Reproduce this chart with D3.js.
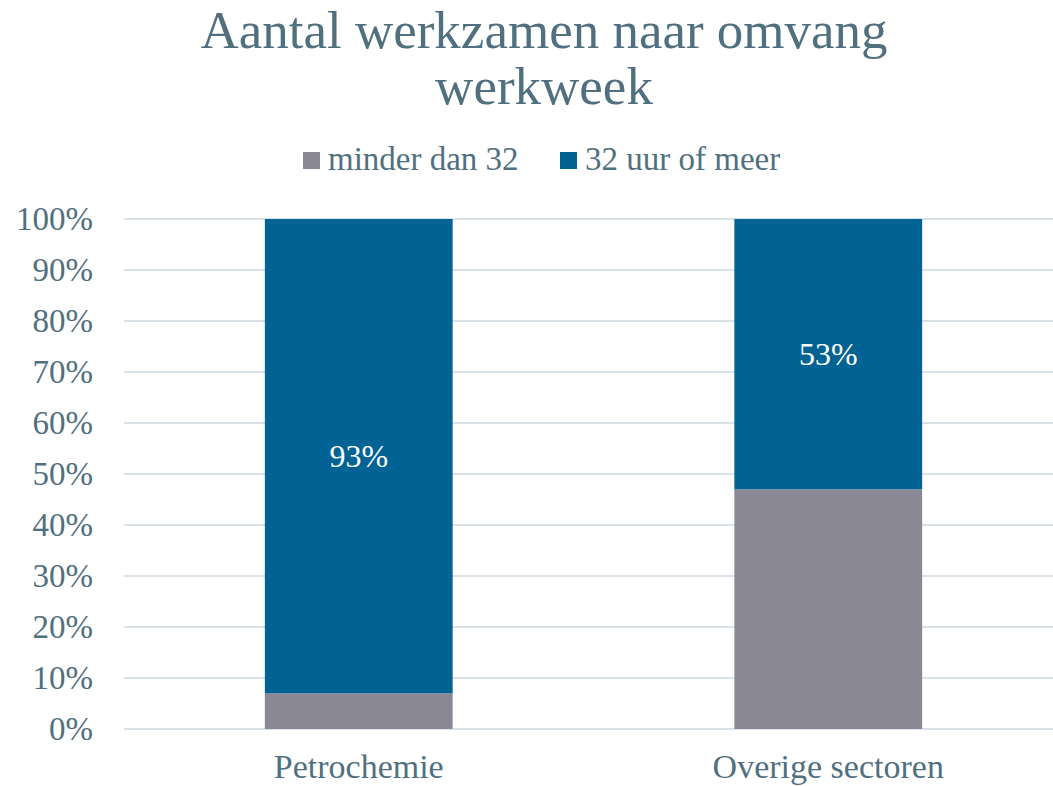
<!DOCTYPE html>
<html>
<head>
<meta charset="utf-8">
<script src="https://cdn.jsdelivr.net/npm/d3@7"></script>
<style>
  body { margin: 0; background: #fff; }
  text { font-family: "Liberation Serif", "DejaVu Serif", serif; fill: #50707f; }
</style>
</head>
<body>
<div id="chart"></div>
<script>
var categories = ['Petrochemie', 'Overige sectoren'];
var seriesNames = ['minder dan 32', '32 uur of meer'];
var minderDan32 = [7, 47];
var uurOfMeer = [93, 53];
var yTicks = [0, 10, 20, 30, 40, 50, 60, 70, 80, 90, 100];

var svgWidth = 1053, svgHeight = 786;
var colors = ['#8a8894', '#006394'];
var textColor = '#50707f';

var svg = d3.select('#chart').append('svg').attr('width', svgWidth).attr('height', svgHeight);

// title
var title = svg.append('text').attr('text-anchor', 'middle').style('font-size', '53px');
title.append('tspan').attr('x', 544).attr('y', 48).text('Aantal werkzamen naar omvang');
title.append('tspan').attr('x', 544).attr('y', 104).text('werkweek');

// scales
var x = d3.scaleBand().domain(categories).range([124, 1063]).padding(0);
var y = d3.scaleLinear().domain([0, 100]).range([729, 219]);

// gridlines
svg.append('g').selectAll('line').data(yTicks).enter().append('line')
  .attr('x1', 124).attr('x2', 1063)
  .attr('y1', function(d){ return y(d); }).attr('y2', function(d){ return y(d); })
  .attr('stroke', '#d9e2e8').attr('stroke-width', 2);

// y axis labels
var yAxis = d3.axisLeft(y).tickValues(yTicks).tickFormat(function(d){ return d + '%'; }).tickSize(0).tickPadding(0);
var yg = svg.append('g').attr('transform', 'translate(93,0)').call(yAxis);
yg.select('.domain').remove();
yg.selectAll('text').style('font-size', '33px').attr('fill', textColor).attr('font-family', null);

// stacked data
var rows = categories.map(function(c, i){ return {cat: c, a: minderDan32[i], b: uurOfMeer[i]}; });
var stack = d3.stack().keys(['a', 'b'])(rows);

var barW = x.bandwidth() * 0.4;
var layers = svg.append('g').selectAll('g').data(stack).enter().append('g')
  .attr('fill', function(d, i){ return colors[i]; });
layers.selectAll('rect').data(function(d){ return d; }).enter().append('rect')
  .attr('x', function(d){ return x(d.data.cat) + (x.bandwidth() - barW) / 2; })
  .attr('width', barW)
  .attr('y', function(d){ return y(d[1]); })
  .attr('height', function(d){ return y(d[0]) - y(d[1]); });

// labels on the blue series
svg.append('g').selectAll('text').data(stack[1]).enter().append('text')
  .attr('x', function(d){ return x(d.data.cat) + x.bandwidth() / 2; })
  .attr('y', function(d){ return (y(d[0]) + y(d[1])) / 2; })
  .attr('dy', '0.35em').attr('text-anchor', 'middle')
  .style('font-size', '32px').style('fill', '#ffffff')
  .text(function(d){ return d.data.b + '%'; });

// x axis labels
var xAxis = d3.axisBottom(x).tickSize(0).tickPadding(0);
var xg = svg.append('g').attr('transform', 'translate(0,778)').call(xAxis);
xg.select('.domain').remove();
xg.selectAll('text').attr('dy', 0).style('font-size', '34px').attr('fill', textColor).attr('font-family', null);

// legend
var legend = svg.append('g');
var legendX = [303, 560];
seriesNames.forEach(function(name, i){
  legend.append('rect').attr('x', legendX[i]).attr('y', 152).attr('width', 17).attr('height', 17).attr('fill', colors[i]);
  legend.append('text').attr('x', legendX[i] + 25).attr('y', 170).style('font-size', '33px').text(name);
});
</script>
</body>
</html>
